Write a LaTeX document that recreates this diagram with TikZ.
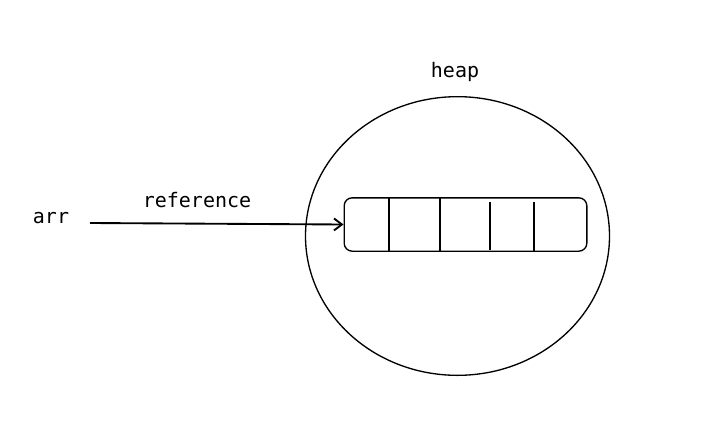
\documentclass[tikz,border=0pt]{standalone}
\usepackage{fontspec}
\setmonofont{DejaVu Sans Mono}
\usetikzlibrary{arrows.meta,shapes.geometric}
\begin{document}
\begin{tikzpicture}[x=0.75pt,y=0.75pt,yscale=-1,xscale=1]
\useasboundingbox (0,0) rectangle (727,421);

%Shape: Ellipse [id:heap]
\node [draw, line width=1pt, ellipse, minimum width=228pt, minimum height=209pt, inner sep=0pt] (heap) at (457.5,236) {};
%Shape: Rounded Rectangle [id:arrbox]
\node [draw, line width=1pt, rounded corners=6pt, minimum width=182pt, minimum height=40pt, inner sep=0pt] (arrbox) at (465.5,224.5) {};
%Straight Lines [id:cells]
\draw [line width=1pt]   (389,198) -- (389,251) ;
\draw [line width=1pt]   (440,198) -- (440,252) ;
\draw [line width=1pt]   (490,202) -- (490,250) ;
\draw [line width=1pt]   (534,202) -- (534,251) ;

% Text Node
\node [inner sep=0.75pt, font=\ttfamily\fontsize{15}{18}\selectfont] (arr) at (51,218) {arr};
% Text Node
\node [inner sep=0.75pt, font=\ttfamily\fontsize{15}{18}\selectfont] (ref) at (197,200) {reference};
% Text Node
\node [inner sep=0.75pt, font=\ttfamily\fontsize{15}{18}\selectfont] (heaplbl) at (455,72) {heap};

%Straight Lines [id:pointer]
\coordinate (tail) at (90,223);
\draw [line width=1.4pt, -{Straight Barb[length=6pt,width=9pt]}]   (tail) -- (arrbox.west) ;
\end{tikzpicture}
\end{document}
